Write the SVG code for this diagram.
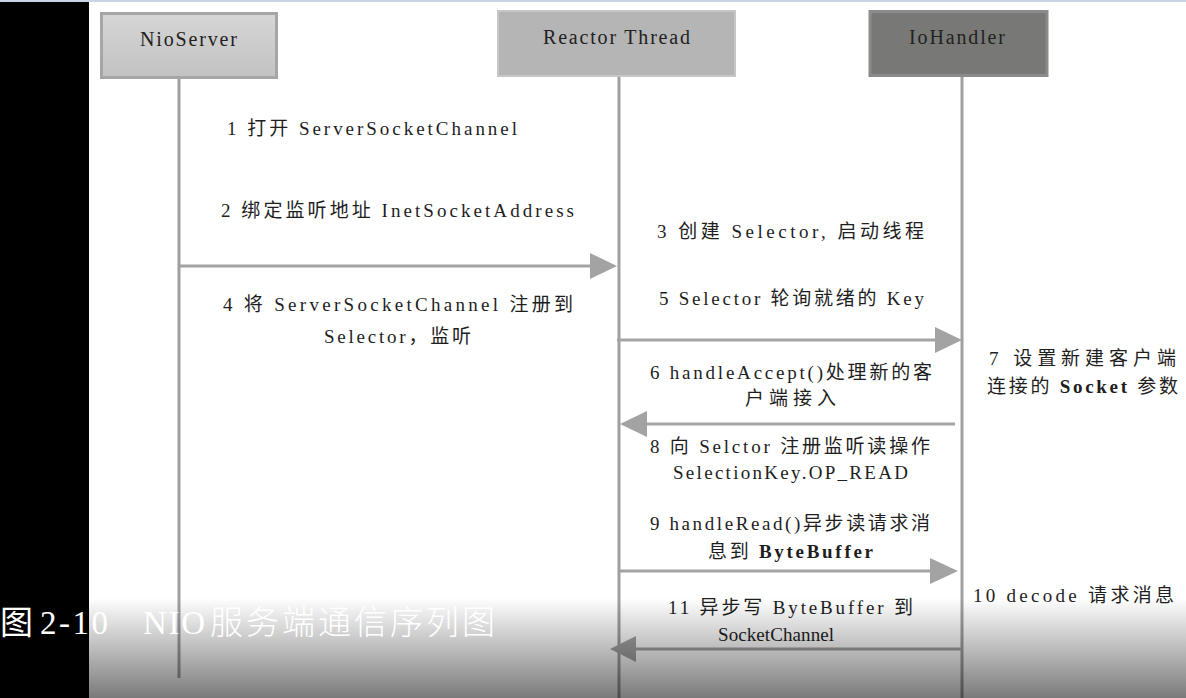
<svg xmlns="http://www.w3.org/2000/svg" width="1186" height="698" viewBox="0 0 1186 698">
<defs>
<linearGradient id="gNio" x1="0" y1="0" x2="0" y2="1"><stop offset="0" stop-color="#d6d6d6"/><stop offset="1" stop-color="#c2c2c2"/></linearGradient>
<linearGradient id="gFade" x1="0" y1="0" x2="0" y2="1"><stop offset="0" stop-color="#000" stop-opacity="0"/><stop offset="1" stop-color="#000" stop-opacity="0.52"/></linearGradient>
<style>
.t{font-family:"Liberation Serif","Noto Sans CJK SC",serif;font-size:19px;fill:#1e1e1e}
.n{font-family:"Liberation Serif","Noto Sans CJK SC",serif;font-size:20px;fill:#222}
.b{font-weight:bold}
.life{stroke:#a0a0a0;stroke-width:3;fill:none}
.msg{stroke:#a3a3a3;stroke-width:3;fill:none}
.head{fill:#a3a3a3}
.cap{fill:#ffffff;font-size:33px}
</style>
</defs>
<rect width="1186" height="698" fill="#ffffff"/>
<rect x="0" y="0" width="89" height="698" fill="#000000"/>
<rect x="0" y="0" width="1186" height="2" fill="#c9d4e4"/>

<g id="lifelines">
<line class="life" x1="179" y1="79" x2="179" y2="678"/>
<line class="life" x1="619" y1="76" x2="619" y2="698"/>
<line class="life" x1="962" y1="76" x2="962" y2="698"/>
</g>

<g id="node-nioserver">
<rect x="101.5" y="13.5" width="175" height="64" fill="url(#gNio)" stroke="#a6a6a6" stroke-width="3"/>
<text class="n" x="140" y="46" textLength="97" lengthAdjust="spacing">NioServer</text>
</g>
<g id="node-reactor">
<rect x="498" y="11" width="237" height="65" fill="#b5b5b5" stroke="#c6c6c6" stroke-width="2"/>
<text class="n" x="543" y="44" textLength="147" lengthAdjust="spacing">Reactor Thread</text>
</g>
<g id="node-iohandler">
<rect x="870" y="11.5" width="177" height="64" fill="#787976" stroke="#8b8b8b" stroke-width="3"/>
<text class="n" x="909" y="44" textLength="96" lengthAdjust="spacing">IoHandler</text>
</g>

<g id="connectors">
<line class="msg" x1="180" y1="266" x2="592" y2="266"/>
<polygon class="head" points="590,253 617,266 590,279"/>
<line class="msg" x1="617" y1="340" x2="937" y2="340"/>
<polygon class="head" points="935,327 962,340 935,353"/>
<line class="msg" x1="955" y1="424" x2="645" y2="424"/>
<polygon class="head" points="647,411 620,424 647,437"/>
<line class="msg" x1="620" y1="571" x2="932" y2="571"/>
<polygon class="head" points="930,558 958,571 930,584"/>
<line class="msg" x1="962" y1="649" x2="634" y2="649"/>
<polygon class="head" points="636,636 610,649 636,662"/>
</g>

<g id="labels">
<text class="t" x="227" y="135" textLength="290" lengthAdjust="spacing">1 打开 ServerSocketChannel</text>
<text class="t" x="221" y="217" textLength="353" lengthAdjust="spacing">2 绑定监听地址 InetSocketAddress</text>
<text class="t" x="657" y="238" textLength="267" lengthAdjust="spacing">3 创建 Selector, 启动线程</text>
<text class="t" x="223" y="311" textLength="350" lengthAdjust="spacing">4 将 ServerSocketChannel 注册到</text>
<text class="t" x="324" y="343" textLength="147" lengthAdjust="spacing">Selector，监听</text>
<text class="t" x="659" y="305" textLength="265" lengthAdjust="spacing">5 Selector 轮询就绪的 Key</text>
<text class="t" x="650" y="379" textLength="282" lengthAdjust="spacing">6 handleAccept()处理新的客</text>
<text class="t" x="745" y="405" textLength="91" lengthAdjust="spacing">户端接入</text>
<text class="t" x="989" y="365" textLength="187" lengthAdjust="spacing">7 设置新建客户端</text>
<text class="t" x="987" y="393" textLength="191" lengthAdjust="spacing">连接的 <tspan class="b">Socket</tspan> 参数</text>
<text class="t" x="650" y="453" textLength="280" lengthAdjust="spacing">8 向 Selctor 注册监听读操作</text>
<text class="t" x="673" y="479" textLength="235" lengthAdjust="spacing">SelectionKey.OP_READ</text>
<text class="t" x="650" y="530" textLength="280" lengthAdjust="spacing">9 handleRead()异步读请求消</text>
<text class="t" x="708" y="558" textLength="165" lengthAdjust="spacing">息到 <tspan class="b">ByteBuffer</tspan></text>
<text class="t" x="973" y="602" textLength="201" lengthAdjust="spacing">10 decode 请求消息</text>
<text class="t" x="668" y="614" textLength="245" lengthAdjust="spacing">11 异步写 ByteBuffer 到</text>
<text class="t" x="718" y="641" textLength="116" lengthAdjust="spacing">SocketChannel</text>
</g>

<rect x="89" y="598" width="1097" height="100" fill="url(#gFade)"/>

<g id="caption">
<text class="cap" x="0" y="634" font-family="'Noto Sans CJK SC',sans-serif">图</text>
<text class="cap" x="40" y="634" font-family="'Liberation Serif',serif" textLength="68" lengthAdjust="spacing">2-10</text>
<text class="cap" x="143" y="634" font-family="'Liberation Serif',serif" textLength="62" lengthAdjust="spacing">NIO</text>
<text class="cap" x="210" y="634" font-family="'Noto Sans CJK SC',sans-serif" font-weight="300" textLength="285" lengthAdjust="spacing">服务端通信序列图</text>
</g>
</svg>
